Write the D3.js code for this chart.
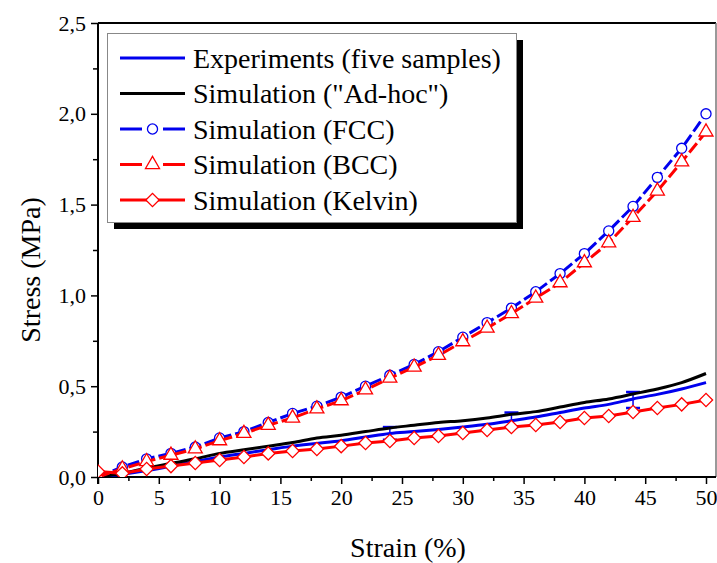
<!DOCTYPE html>
<html>
<head>
<meta charset="utf-8">
<script src="https://cdn.jsdelivr.net/npm/d3@7"></script>
<style>
  html, body { margin: 0; padding: 0; background: #fff; }
  svg { display: block; }
  text { font-family: "Liberation Serif", "DejaVu Serif", serif; fill: #000; }
</style>
</head>
<body>
<svg id="chart" width="717" height="563"></svg>
<script>
// ---------- data ----------
const strain = [0, 2, 4, 6, 8, 10, 12, 14, 16, 18, 20, 22, 24, 26, 28, 30, 32, 34, 36, 38, 40, 42, 44, 46, 48, 50];
const expStress = [0, 0.015, 0.035, 0.06, 0.085, 0.11, 0.13, 0.15, 0.17, 0.185, 0.20, 0.22, 0.24, 0.25, 0.262, 0.275, 0.29, 0.31, 0.33, 0.355, 0.38, 0.40, 0.43, 0.455, 0.485, 0.52];
const adhocStress = [0, 0.02, 0.05, 0.075, 0.10, 0.13, 0.15, 0.17, 0.19, 0.215, 0.23, 0.25, 0.27, 0.285, 0.30, 0.31, 0.325, 0.345, 0.36, 0.385, 0.41, 0.43, 0.457, 0.485, 0.52, 0.57];
const fccStress = [0, 0.055, 0.10, 0.13, 0.165, 0.215, 0.25, 0.30, 0.35, 0.39, 0.44, 0.50, 0.56, 0.62, 0.69, 0.77, 0.85, 0.93, 1.02, 1.12, 1.23, 1.355, 1.49, 1.65, 1.81, 2.00];
const bccStress = [0, 0.045, 0.085, 0.12, 0.155, 0.20, 0.24, 0.285, 0.325, 0.375, 0.42, 0.48, 0.545, 0.605, 0.67, 0.745, 0.82, 0.90, 0.985, 1.07, 1.18, 1.29, 1.43, 1.575, 1.735, 1.90];
const kelvinStress = [0.03, 0.02, 0.044, 0.06, 0.077, 0.094, 0.11, 0.13, 0.143, 0.154, 0.17, 0.187, 0.198, 0.215, 0.226, 0.242, 0.259, 0.275, 0.286, 0.303, 0.325, 0.336, 0.358, 0.38, 0.40, 0.424];
const errStrain = [24, 34, 44];
const errLow = [0.205, 0.275, 0.38];
const errHigh = [0.275, 0.355, 0.468];
const xTicks = [0, 5, 10, 15, 20, 25, 30, 35, 40, 45, 50];
const yTicks = [0, 0.5, 1.0, 1.5, 2.0, 2.5];
const legendLabels = ["Experiments (five samples)", "Simulation (\"Ad-hoc\")", "Simulation (FCC)", "Simulation (BCC)", "Simulation (Kelvin)"];

// ---------- layout ----------
const svg = d3.select("#chart");
const pL = 98, pR = 716, pT = 23, pB = 477;
const x = d3.scaleLinear().domain([0, 50]).range([pL, 706]);
const y = d3.scaleLinear().domain([0, 2.5]).range([pB, pT]);
const fmt = v => d3.format(".1f")(v).replace(".", ",");

svg.append("defs").append("clipPath").attr("id", "plotclip")
  .append("rect").attr("x", pL).attr("y", pT).attr("width", pR - pL).attr("height", pB - pT);

// frame (top and right)
svg.append("line").attr("x1", pL).attr("x2", pR).attr("y1", pT).attr("y2", pT)
  .attr("stroke", "#000").attr("stroke-width", 2);
svg.append("line").attr("x1", pR).attr("x2", pR).attr("y1", pT).attr("y2", pB)
  .attr("stroke", "#777").attr("stroke-width", 1.5);

// axes
const xAxis = d3.axisBottom(x).tickValues(xTicks).tickSize(7).tickPadding(5).tickFormat(d3.format("d"));
const gx = svg.append("g").attr("transform", `translate(0,${pB})`).call(xAxis);
gx.select(".domain").attr("d", `M${pL},0H${pR}`).attr("stroke-width", 2);
gx.selectAll(".tick line").attr("stroke-width", 1.5);
gx.selectAll("text").attr("font-size", 22).attr("font-family", "Liberation Serif");
const gxm = svg.append("g").attr("transform", `translate(0,${pB})`)
  .call(d3.axisBottom(x).tickValues(d3.range(2.5, 50, 5)).tickSize(4).tickFormat(""));
gxm.select(".domain").remove();
gxm.selectAll(".tick line").attr("stroke-width", 1.5);

const yAxis = d3.axisLeft(y).tickValues(yTicks).tickSize(7).tickPadding(5).tickFormat(fmt);
const gy = svg.append("g").attr("transform", `translate(${pL},0)`).call(yAxis);
gy.select(".domain").attr("d", `M0,${pB + 7}V${pT}`).attr("stroke-width", 2);
gy.selectAll(".tick line").attr("stroke-width", 1.5);
gy.selectAll("text").attr("font-size", 22).attr("font-family", "Liberation Serif");
const gym = svg.append("g").attr("transform", `translate(${pL},0)`)
  .call(d3.axisLeft(y).tickValues(d3.range(0.25, 2.5, 0.5)).tickSize(5).tickFormat(""));
gym.select(".domain").remove();
gym.selectAll(".tick line").attr("stroke-width", 1.5);

// axis titles
svg.append("text").attr("x", 408).attr("y", 557).attr("text-anchor", "middle")
  .attr("font-size", 28).text("Strain (%)");
svg.append("text").attr("transform", "translate(40,270) rotate(-90)").attr("text-anchor", "middle")
  .attr("font-size", 28).text("Stress (MPa)");

// ---------- series ----------
const plot = svg.append("g").attr("clip-path", "url(#plotclip)");
const smooth = d3.line().x((d, i) => x(strain[i])).y(d => y(d)).curve(d3.curveMonotoneX);
const straight = d3.line().x((d, i) => x(strain[i])).y(d => y(d));

const BLUE = "#0000ee", RED = "#ff0000";

plot.append("path").attr("d", smooth(expStress)).attr("fill", "none").attr("stroke", BLUE).attr("stroke-width", 3);

// error bars
errStrain.forEach((s, i) => {
  const cx = x(s);
  plot.append("line").attr("x1", cx).attr("x2", cx).attr("y1", y(errLow[i])).attr("y2", y(errHigh[i]))
    .attr("stroke", BLUE).attr("stroke-width", 1.5);
  [errLow[i], errHigh[i]].forEach(v => {
    plot.append("line").attr("x1", cx - 7).attr("x2", cx + 7).attr("y1", y(v)).attr("y2", y(v))
      .attr("stroke", BLUE).attr("stroke-width", 2.5);
  });
});

plot.append("path").attr("d", smooth(adhocStress)).attr("fill", "none").attr("stroke", "#000").attr("stroke-width", 3);

// FCC
plot.append("path").attr("d", straight(fccStress)).attr("fill", "none").attr("stroke", BLUE)
  .attr("stroke-width", 3).attr("stroke-dasharray", "12,4");
const circleSym = d3.symbol().type(d3.symbolCircle).size(80);
plot.selectAll(".fcc").data(fccStress).join("path").attr("class", "fcc")
  .attr("d", circleSym).attr("transform", (d, i) => `translate(${x(strain[i])},${y(d)})`)
  .attr("fill", "#fff").attr("stroke", BLUE).attr("stroke-width", 1.3);

// BCC
plot.append("path").attr("d", straight(bccStress)).attr("fill", "none").attr("stroke", RED)
  .attr("stroke-width", 3).attr("stroke-dasharray", "12,4");
const triSym = d3.symbol().type(d3.symbolTriangle).size(85);
plot.selectAll(".bcc").data(bccStress).join("path").attr("class", "bcc")
  .attr("d", triSym).attr("transform", (d, i) => `translate(${x(strain[i])},${y(d)})`)
  .attr("fill", "#fff").attr("stroke", RED).attr("stroke-width", 1.3);

// Kelvin
plot.append("path").attr("d", straight(kelvinStress)).attr("fill", "none").attr("stroke", RED).attr("stroke-width", 3);
const diaSym = d3.symbol().type(d3.symbolSquare).size(88);
plot.selectAll(".kel").data(kelvinStress).join("path").attr("class", "kel")
  .attr("d", diaSym).attr("transform", (d, i) => `translate(${x(strain[i])},${y(d)}) rotate(45)`)
  .attr("fill", "#fff").attr("stroke", RED).attr("stroke-width", 1.3);

// ---------- legend ----------
const lg = svg.append("g");
lg.append("rect").attr("x", 114).attr("y", 40).attr("width", 409).attr("height", 189).attr("fill", "#000");
lg.append("rect").attr("x", 107.5).attr("y", 33.5).attr("width", 409).attr("height", 189)
  .attr("fill", "#fff").attr("stroke", "#888").attr("stroke-width", 1);
const rowsY = [58, 93.5, 129, 164.5, 200];
const lstyles = [
  {c: BLUE, dash: null, m: null},
  {c: "#000", dash: null, m: null},
  {c: BLUE, dash: "gap", m: "circle"},
  {c: RED, dash: "gap", m: "tri"},
  {c: RED, dash: null, m: "dia"}
];
legendLabels.forEach((lab, i) => {
  const yy = rowsY[i], st = lstyles[i];
  if (st.dash) {
    lg.append("line").attr("x1", 120).attr("x2", 142).attr("y1", yy).attr("y2", yy).attr("stroke", st.c).attr("stroke-width", 3);
    lg.append("line").attr("x1", 163).attr("x2", 185).attr("y1", yy).attr("y2", yy).attr("stroke", st.c).attr("stroke-width", 3);
  } else {
    lg.append("line").attr("x1", 120).attr("x2", 185).attr("y1", yy).attr("y2", yy).attr("stroke", st.c).attr("stroke-width", 3);
  }
  if (st.m === "circle") {
    lg.append("path").attr("d", circleSym).attr("transform", `translate(152.5,${yy})`).attr("fill", "#fff").attr("stroke", st.c).attr("stroke-width", 1.3);
  } else if (st.m === "tri") {
    lg.append("path").attr("d", triSym).attr("transform", `translate(152.5,${yy})`).attr("fill", "#fff").attr("stroke", st.c).attr("stroke-width", 1.3);
  } else if (st.m === "dia") {
    lg.append("path").attr("d", diaSym).attr("transform", `translate(152.5,${yy}) rotate(45)`).attr("fill", "#fff").attr("stroke", st.c).attr("stroke-width", 1.3);
  }
  lg.append("text").attr("x", 193).attr("y", yy + 9.5).attr("font-size", 28).text(lab);
});
</script>
</body>
</html>
